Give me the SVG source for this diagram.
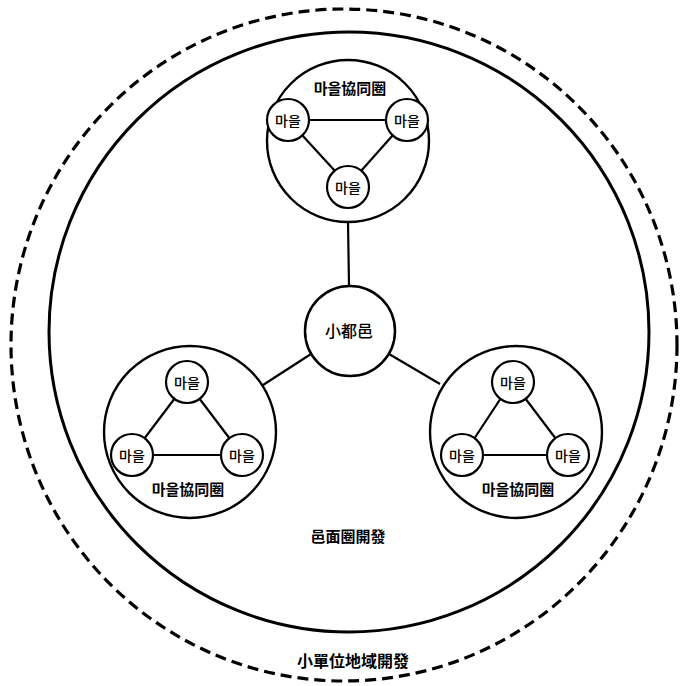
<svg xmlns="http://www.w3.org/2000/svg" width="681" height="686" viewBox="0 0 681 686">
<style>
text{font-family:"Noto Sans CJK KR","Noto Sans CJK SC",sans-serif;fill:#000;text-anchor:middle;dominant-baseline:central}
.v circle{fill:#fff;stroke:#000;stroke-width:2.2}
.v text{font-size:14px;font-weight:500}
.cl{fill:none;stroke:#000;stroke-width:2.4}
.lk{stroke:#000;stroke-width:2.2;fill:none}
.lab{font-size:15px;font-weight:700}
</style>
<rect width="681" height="686" fill="#fff"/>
<g id="region-outer">
<ellipse cx="344" cy="345" rx="333" ry="336" fill="none" stroke="#000" stroke-width="3.2" stroke-dasharray="11 6"/>
<text x="353" y="660" style="font-size:16px;font-weight:700">小單位地域開發</text>
</g>
<g id="region-inner">
<circle cx="349" cy="332" r="300" fill="none" stroke="#000" stroke-width="3"/>
<text x="348" y="535" style="font-size:15px;font-weight:700">邑面圈開發</text>
</g>
<g id="connectors">
<line class="lk" x1="348" y1="222" x2="349" y2="286"/>
<line class="lk" x1="311" y1="354" x2="263" y2="385"/>
<line class="lk" x1="389" y1="354" x2="440" y2="384"/>
<line class="lk" x1="309" y1="120" x2="386" y2="120"/>
<line class="lk" x1="302" y1="135" x2="335" y2="171"/>
<line class="lk" x1="393" y1="135" x2="361" y2="171"/>
<line class="lk" x1="175" y1="398" x2="144" y2="439"/>
<line class="lk" x1="199" y1="398" x2="230" y2="439"/>
<line class="lk" x1="153" y1="455" x2="221" y2="455"/>
<line class="lk" x1="501" y1="398" x2="474" y2="439"/>
<line class="lk" x1="525" y1="398" x2="556" y2="439"/>
<line class="lk" x1="483" y1="455" x2="547" y2="455"/>
</g>
<g id="center">
<circle cx="350" cy="331" r="45" fill="#fff" stroke="#000" stroke-width="2.5"/>
<text x="349" y="330" style="font-size:16px;font-weight:500">小都邑</text>
</g>
<g id="cluster-top">
<circle class="cl" cx="348" cy="141" r="81"/>
<text class="lab" x="350" y="87">마을協同圈</text>
<g class="v" id="v-top-1"><circle cx="288" cy="120" r="21"/><text x="288" y="120">마을</text></g>
<g class="v" id="v-top-2"><circle cx="407" cy="120" r="21"/><text x="407" y="120">마을</text></g>
<g class="v" id="v-top-3"><circle cx="348" cy="187" r="21"/><text x="348" y="187">마을</text></g>
</g>
<g id="cluster-left">
<circle class="cl" cx="190" cy="432" r="86"/>
<text class="lab" x="188" y="488">마을協同圈</text>
<g class="v" id="v-left-1"><circle cx="187" cy="382" r="21"/><text x="187" y="382">마을</text></g>
<g class="v" id="v-left-2"><circle cx="132" cy="455" r="21"/><text x="132" y="455">마을</text></g>
<g class="v" id="v-left-3"><circle cx="242" cy="455" r="21"/><text x="242" y="455">마을</text></g>
</g>
<g id="cluster-right">
<circle class="cl" cx="516" cy="432" r="86"/>
<text class="lab" x="518" y="488">마을協同圈</text>
<g class="v" id="v-right-1"><circle cx="513" cy="382" r="21"/><text x="513" y="382">마을</text></g>
<g class="v" id="v-right-2"><circle cx="462" cy="455" r="21"/><text x="462" y="455">마을</text></g>
<g class="v" id="v-right-3"><circle cx="568" cy="455" r="21"/><text x="568" y="455">마을</text></g>
</g>
</svg>
